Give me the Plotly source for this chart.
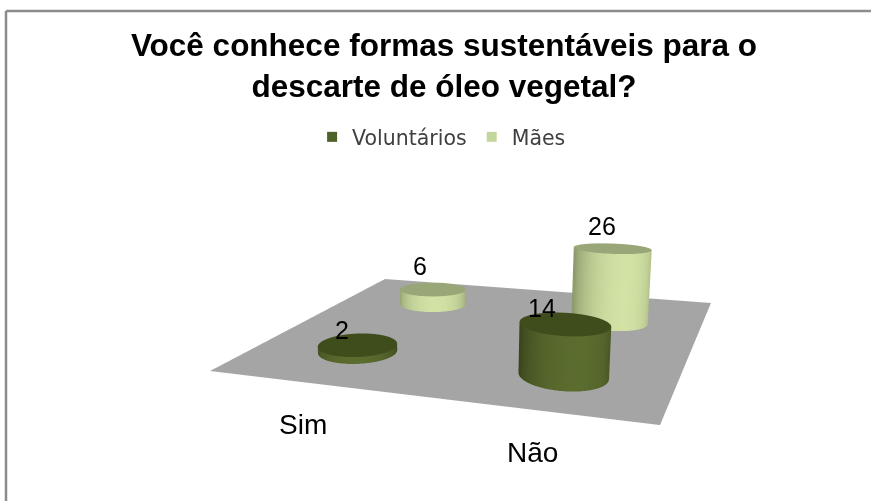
import numpy as np
import plotly.graph_objects as go

title_text = "Você conhece formas sustentáveis para o<br>descarte de óleo vegetal?"
categories = ["Sim", "Não"]
series_names = ["Voluntários", "Mães"]
voluntarios = [2, 14]
maes = [6, 26]
series_values = [voluntarios, maes]

# placement of each cylinder on the floor, per series then category
place_x = [[0.644, 1.569], [0.545, 1.583]]
place_y = [[0.326, 0.442], [1.458, 1.532]]
radius_scene = [0.09, 0.10]
label_xshift = [[-16, -23], [-13, -10]]
label_yshift = [[15, 16], [23, 22]]
category_x = [0.916, 1.651]
category_y = [-0.532, -0.36]
# floor outline: back-left, back-right, front-left, front-right
floor_x = [[-0.124, 2.069], [0.24, 1.975]]
floor_y = [[2.1, 2.349], [-0.245, 0.063]]

side_dark = ["#39451b", "#8e9c6c"]
side_light = ["#5b6c2f", "#d2e2a5"]
top_color = ["#3f4c1c", "#98a678"]
swatch = ["#4f6228", "#c3d69b"]
ZMAX = 26
AY = 0.86605936
az = 0.2

flat = dict(ambient=1, diffuse=0, specular=0, fresnel=0)
fig = go.Figure()

fig.add_trace(go.Surface(
    x=floor_x, y=floor_y, z=[[0, 0], [0, 0]],
    surfacecolor=[[0, 0], [0, 0]], colorscale=[[0, "#a5a5a5"], [1, "#a5a5a5"]],
    showscale=False, hoverinfo="skip", lighting=flat,
))

facing = np.deg2rad(-60)
labels = []
for s, vals in enumerate(series_values):
    rx = radius_scene[s] * 2
    ry = radius_scene[s] * 2 / AY
    for c, v in enumerate(vals):
        cx, cy = place_x[s][c], place_y[s][c]
        th = np.linspace(0, 2 * np.pi, 121)
        X = np.array([cx + rx * np.cos(th)] * 2)
        Y = np.array([cy + ry * np.sin(th)] * 2)
        Z = np.array([np.zeros_like(th), np.full_like(th, v)])
        shade = np.clip(np.cos(th - facing), 0, 1)
        fig.add_trace(go.Surface(
            x=X, y=Y, z=Z, surfacecolor=np.array([shade, shade]),
            cmin=0, cmax=1, colorscale=[[0, side_dark[s]], [1, side_light[s]]],
            showscale=False, hoverinfo="skip", lighting=flat,
        ))
        rr = np.array([0, 1.0])
        Xc = cx + np.outer(rr * rx, np.cos(th))
        Yc = cy + np.outer(rr * ry, np.sin(th))
        Zc = np.full_like(Xc, v)
        fig.add_trace(go.Surface(
            x=Xc, y=Yc, z=Zc, surfacecolor=np.zeros_like(Xc),
            colorscale=[[0, top_color[s]], [1, top_color[s]]],
            showscale=False, hoverinfo="skip", lighting=flat,
        ))
        labels.append(dict(x=cx, y=cy, z=v, text=str(v), showarrow=False,
                           xshift=label_xshift[s][c], yshift=label_yshift[s][c],
                           font=dict(family="Liberation Sans", size=25, color="black")))

for c, name in enumerate(categories):
    labels.append(dict(x=category_x[c], y=category_y[c], z=0, text=name, showarrow=False,
                       font=dict(family="Liberation Sans", size=28, color="black")))

for s, name in enumerate(series_names):
    fig.add_trace(go.Scatter3d(
        x=[None], y=[None], z=[None], mode="markers", name=name, showlegend=True,
        marker=dict(symbol="square", size=10, color=swatch[s]),
    ))

hidden = dict(showgrid=False, zeroline=False, showline=False, showbackground=False,
              showspikes=False, title="", showticklabels=False, ticks="")
eye = dict(x=0.56837, y=-1.41770, z=0.43039 - az / 2)
center = dict(x=0.13514, y=-0.52829, z=0.28460 - az / 2)

fig.update_layout(
    width=871, height=501, margin=dict(l=0, r=0, t=0, b=0),
    paper_bgcolor="white", plot_bgcolor="white",
    font=dict(family="Liberation Sans", color="black"),
    title=dict(text=title_text, x=444 / 871, xanchor="center", y=0.889, yanchor="top",
               font=dict(family="Liberation Sans", size=31.5, color="black", weight="bold")),
    legend=dict(orientation="h", x=0.507, xanchor="center", y=0.7265, yanchor="middle",
                font=dict(family="DejaVu Sans", size=20.5, color="#404040"),
                itemwidth=30, bgcolor="rgba(0,0,0,0)"),
    shapes=[
        dict(type="line", xref="paper", yref="paper", x0=6 / 871, x1=1, y0=1 - 11 / 501, y1=1 - 11 / 501,
             line=dict(color="#8c8c8c", width=2.5)),
        dict(type="line", xref="paper", yref="paper", x0=6 / 871, x1=6 / 871, y0=0, y1=1 - 11 / 501,
             line=dict(color="#8c8c8c", width=2.5)),
    ],
    scene=dict(
        domain=dict(x=[0, 1], y=[0, 1]),
        xaxis=dict(hidden, range=[-0.4, 2.4]),
        yaxis=dict(hidden, range=[-0.7, 2.7]),
        zaxis=dict(hidden, range=[0, ZMAX]),
        aspectmode="manual", aspectratio=dict(x=1.4, y=AY * 1.7, z=az),
        camera=dict(eye=eye, center=center, up=dict(x=0, y=0, z=1),
                    projection=dict(type="perspective")),
        annotations=labels,
    ),
)
fig.write_html("out.html", config=dict(displayModeBar=False),
               post_script="document.body.style.margin='0';")
